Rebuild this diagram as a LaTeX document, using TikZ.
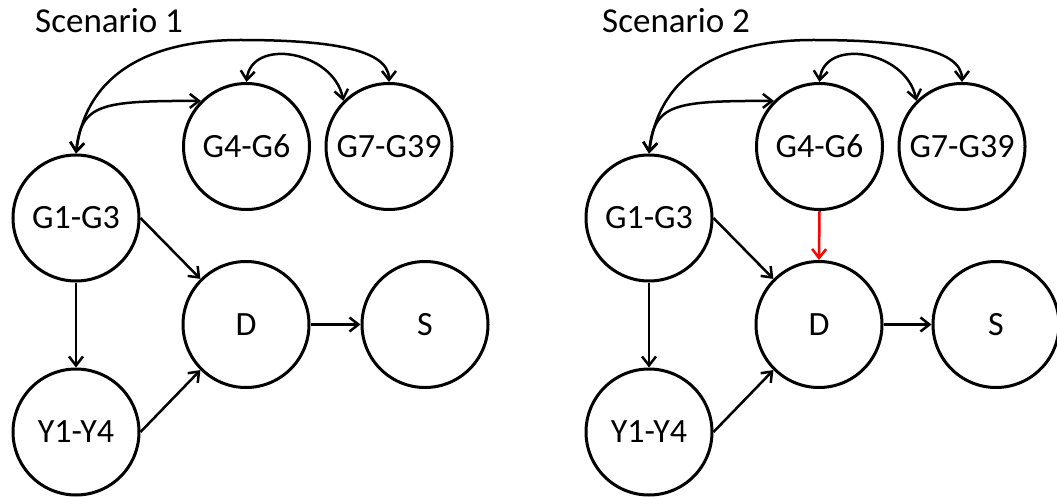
\documentclass[tikz,border=0pt]{standalone}
\usepackage{fontspec}
\setmainfont{Carlito}
\usetikzlibrary{arrows.meta}
\begin{document}
\begin{tikzpicture}[x=1pt,y=-1pt,
  every node/.style={font=\fontsize{34}{40}\selectfont},
  var/.style={circle,draw,line width=3pt,minimum size=126pt,inner sep=0pt},
  title/.style={anchor=base west,inner sep=0pt,font=\fontsize{35}{42}\selectfont},
  link/.style={line width=2.5pt,-{Straight Barb[length=9pt,width=14pt]}},
  blink/.style={line width=2.5pt,{Straight Barb[length=9pt,width=14pt]}-{Straight Barb[length=9pt,width=14pt]}},
  redlink/.style={link,red}]
\useasboundingbox (0,0) rectangle (1057,497);
% ---------- Scenario 1 ----------
\node[title] (t1) at (35,33) {Scenario 1};
\node[var] (G1a) at (76,218) {G1-G3};
\node[var] (G4a) at (246.5,146.5) {G4-G6};
\node[var] (G7a) at (389,146.5) {G7-G39};
\node[var] (Da) at (246,324.5) {D};
\node[var] (Sa) at (425,324.5) {S};
\node[var] (Ya) at (76,432) {Y1-Y4};
\coordinate (topA) at (240,40);
\draw[link] (G1a.east) -- (Da.north west);
\draw[link] (Ya.east) -- (Da.south west);
\draw[link] (G1a.south) -- (Ya.north);
\draw[link] (Da.east) -- (Sa.west);
\draw[blink] (G1a.north) .. controls +(5,-50) and +(-100,0) .. (G4a.north west);
\draw[blink] (G1a.north) .. controls +(10,-80) and +(-90,0) .. (topA)
  .. controls +(80,0) and +(0,-35) .. (G7a.north);
\draw[blink] (G4a.north) .. controls +(5,-45) and +(-10,-50) .. (G7a.north west);
% ---------- Scenario 2 ----------
\begin{scope}[xshift=573pt]
\node[title] (t2) at (29,33) {Scenario 2};
\node[var] (G1b) at (76,218) {G1-G3};
\node[var] (G4b) at (246.5,146.5) {G4-G6};
\node[var] (G7b) at (389,146.5) {G7-G39};
\node[var] (Db) at (246,324.5) {D};
\node[var] (Sb) at (423,324.5) {S};
\node[var] (Yb) at (76,432) {Y1-Y4};
\coordinate (topB) at (240,40);
\draw[link] (G1b.east) -- (Db.north west);
\draw[link] (Yb.east) -- (Db.south west);
\draw[link] (G1b.south) -- (Yb.north);
\draw[link] (Db.east) -- (Sb.west);
\draw[blink] (G1b.north) .. controls +(5,-50) and +(-100,0) .. (G4b.north west);
\draw[blink] (G1b.north) .. controls +(10,-80) and +(-90,0) .. (topB)
  .. controls +(80,0) and +(0,-35) .. (G7b.north);
\draw[blink] (G4b.north) .. controls +(5,-45) and +(-10,-50) .. (G7b.north west);
\draw[redlink] (G4b.south) -- (Db.north);
\end{scope}
\end{tikzpicture}
\end{document}
